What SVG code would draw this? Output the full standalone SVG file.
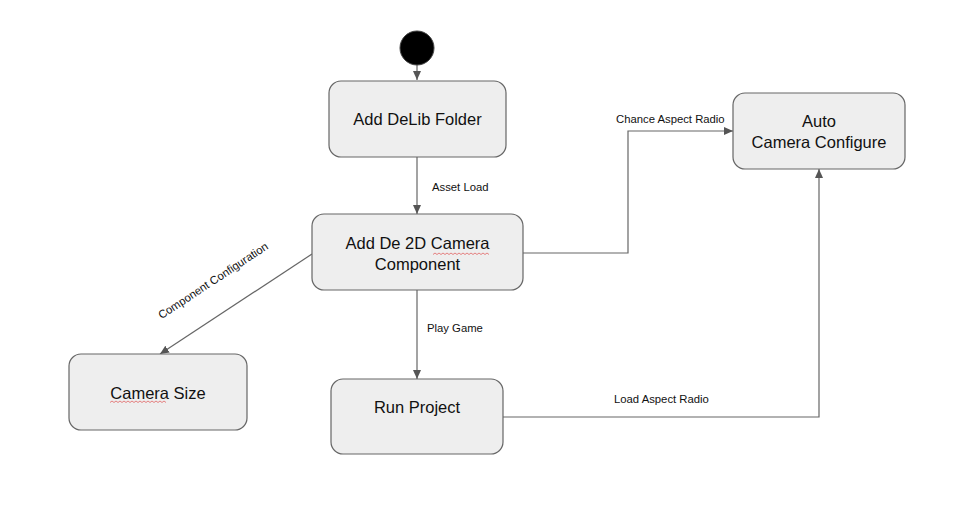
<svg xmlns="http://www.w3.org/2000/svg" width="962" height="522" viewBox="0 0 962 522">
<style>
.node{fill:#eeeeee;stroke:#666666;stroke-width:1.2}
.nt{font-family:"Liberation Sans",Arial,sans-serif;font-size:16.5px;fill:#111111;text-anchor:middle;dominant-baseline:central}
.lt{font-family:"Liberation Sans",Arial,sans-serif;font-size:11.3px;fill:#111111;dominant-baseline:central}
.edge{fill:none;stroke:#666666;stroke-width:1.2}
.sq{fill:none;stroke:#e05050;stroke-width:0.7}
</style>
<defs>
<marker id="arr" markerWidth="10" markerHeight="10" refX="9" refY="5" orient="auto" markerUnits="userSpaceOnUse">
<path d="M0,1 L9,5 L0,9 Z" fill="#555555"/>
</marker>
</defs>
<rect width="962" height="522" fill="#ffffff"/>
<g id="connectors">
<path class="edge" d="M417,65 L417,80" marker-end="url(#arr)"/>
<path class="edge" d="M417,157 L417,214" marker-end="url(#arr)"/>
<path class="edge" d="M523,253 L628,253 L628,131 L733,131" marker-end="url(#arr)"/>
<path class="edge" d="M312,254 L160,354" marker-end="url(#arr)"/>
<path class="edge" d="M417,290 L417,379" marker-end="url(#arr)"/>
<path class="edge" d="M503,417 L819,417 L819,169" marker-end="url(#arr)"/>
<text class="lt" x="432" y="187">Asset Load</text>
<text class="lt" x="616" y="119">Chance Aspect Radio</text>
<text class="lt" x="427" y="328">Play Game</text>
<text class="lt" x="614" y="399">Load Aspect Radio</text>
<text class="lt" text-anchor="middle" transform="translate(213,280.5) rotate(-33.5)">Component Configuration</text>
</g>
<g id="start">
<circle cx="417" cy="48" r="17" fill="#000000" stroke="#444444" stroke-width="1"/>
</g>
<g id="add-delib-folder">
<rect class="node" x="329" y="81" width="177" height="76" rx="12"/>
<text class="nt" x="417.5" y="119">Add DeLib Folder</text>
</g>
<g id="add-camera-component">
<rect class="node" x="312" y="214" width="211" height="76" rx="12"/>
<text class="nt" x="417.5" y="243">Add De 2D Camera</text>
<text class="nt" x="417.5" y="264">Component</text>
<path class="sq" d="M433,254.5 l2,-1.5 l2,1.5 l2,-1.5 l2,1.5 l2,-1.5 l2,1.5 l2,-1.5 l2,1.5 l2,-1.5 l2,1.5 l2,-1.5 l2,1.5 l2,-1.5 l2,1.5 l2,-1.5 l2,1.5 l2,-1.5 l2,1.5 l2,-1.5 l2,1.5 l2,-1.5 l2,1.5 l2,-1.5 l2,1.5 l2,-1.5 l2,1.5 l2,-1.5 l2,1.5"/>
</g>
<g id="auto-camera-configure">
<rect class="node" x="733" y="93" width="172" height="76" rx="12"/>
<text class="nt" x="819" y="121">Auto</text>
<text class="nt" x="819" y="142">Camera Configure</text>
</g>
<g id="camera-size">
<rect class="node" x="69" y="354" width="178" height="76" rx="12"/>
<text class="nt" x="158" y="393">Camera Size</text>
<path class="sq" d="M110,402.5 l2,-1.5 l2,1.5 l2,-1.5 l2,1.5 l2,-1.5 l2,1.5 l2,-1.5 l2,1.5 l2,-1.5 l2,1.5 l2,-1.5 l2,1.5 l2,-1.5 l2,1.5 l2,-1.5 l2,1.5 l2,-1.5 l2,1.5 l2,-1.5 l2,1.5 l2,-1.5 l2,1.5 l2,-1.5 l2,1.5 l2,-1.5 l2,1.5 l2,-1.5 l2,1.5"/>
</g>
<g id="run-project">
<rect class="node" x="331" y="379" width="172" height="75" rx="12"/>
<text class="nt" x="417" y="407">Run Project</text>
</g>
</svg>
